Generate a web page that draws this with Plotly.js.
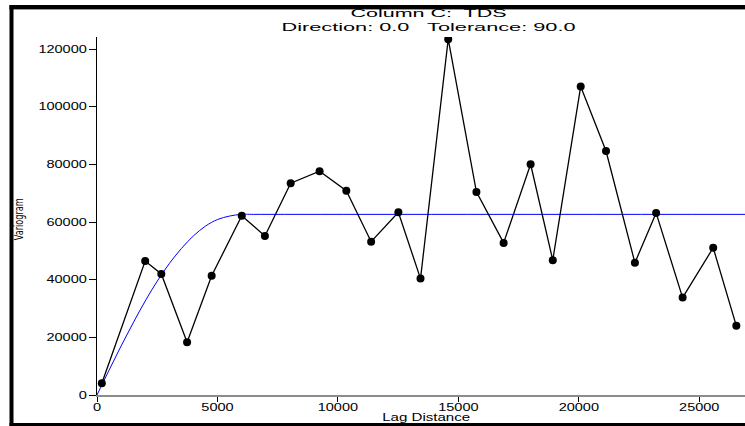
<!DOCTYPE html>
<html>
<head>
<meta charset="utf-8">
<script src="https://cdn.plot.ly/plotly-3.0.1.min.js"></script>
<style>
  html, body { margin: 0; padding: 0; background: #ffffff; }
  #chart { width: 745px; height: 426px; }
</style>
</head>
<body>
<div id="chart"></div>
<script>
// ---- data ----
const lagDistance = [200, 2000, 2670, 3740, 4760, 6010, 6970, 8040, 9240, 10350, 11380, 12510, 13430,
                     14580, 15750, 16880, 18000, 18920, 20080, 21130, 22330, 23210, 24310, 25580, 26540];
const variogramValues = [4100, 46500, 42000, 18300, 41400, 62200, 55200, 73500, 77700, 70900, 53200, 63400, 40400,
                         123500, 70500, 52800, 80100, 46800, 107100, 84700, 45900, 63200, 33800, 51100, 24000];
// fitted model curve (blue)
const modelLag = [0, 500, 1000, 1500, 2000, 2500, 3000, 3500, 4000, 4500, 5000, 5500, 6000, 6500, 27000];
const modelValues = [0, 8600, 17000, 25000, 32600, 39500, 45600, 50800, 55200, 58600, 60900, 62100, 62700, 62700, 62700];
const xTickValues = [0, 5000, 10000, 15000, 20000, 25000];
const yTickValues = [0, 20000, 40000, 60000, 80000, 100000, 120000];
const titleLine1 = "Column C:  TDS";
const titleLine2 = "Direction: 0.0   Tolerance: 90.0";
const xTitle = "Lag Distance";
const yTitle = "Variogram";

// ---- layout geometry ----
const W = 745, H = 426, ML = 97, MR = 0, MT = 37, MB = 31;
const PW = W - ML - MR, PH = H - MT - MB;
const fx = p => (p - ML) / PW;
const fy = p => (H - MB - p) / PH;
const FONT = "Liberation Sans, Arial, sans-serif";

const traces = [
  {
    x: modelLag, y: modelValues, type: "scatter", mode: "lines",
    line: { color: "#0000ff", width: 1, shape: "spline", smoothing: 1 },
    hoverinfo: "skip", showlegend: false
  },
  {
    x: lagDistance, y: variogramValues, type: "scatter", mode: "lines+markers",
    line: { color: "#000000", width: 1.3 },
    marker: { color: "#000000", size: 8, symbol: "circle" },
    showlegend: false
  }
];

function rect(x0, y0, x1, y1, color) {
  return { type: "rect", xref: "paper", yref: "paper",
           x0: fx(x0), x1: fx(x1), y0: fy(y1), y1: fy(y0),
           fillcolor: color, line: { width: 0 }, layer: "above" };
}

const layout = {
  width: W, height: H,
  margin: { l: ML, r: MR, t: MT, b: MB, pad: 0 },
  paper_bgcolor: "#ffffff", plot_bgcolor: "#ffffff",
  showlegend: false,
  font: { family: FONT, size: 10, color: "#000000" },
  xaxis: {
    range: [0, 26900], tickvals: xTickValues, tickformat: "d",
    ticks: "outside", ticklen: 5, tickwidth: 1, tickcolor: "#000000",
    showline: true, linecolor: "#8c8c8c", linewidth: 1.5,
    showgrid: false, zeroline: false,
    tickfont: { family: FONT, size: 10, color: "#000000" }
  },
  yaxis: {
    range: [0, 124260], tickvals: yTickValues, tickformat: "d",
    ticks: "outside", ticklen: 7, tickwidth: 1, tickcolor: "#000000",
    showline: true, linecolor: "#000000", linewidth: 1.2,
    showgrid: false, zeroline: false,
    tickfont: { family: FONT, size: 10, color: "#000000" }
  },
  shapes: [
    rect(9.5, 5, 760, 9, "#000000"),      // top frame bar
    rect(9.5, 9, 760, 10, "#9a9a9a"),     // thin grey under top bar
    rect(9.5, 5, 13.5, 426, "#000000"),   // left frame bar
    rect(9.5, 423, 760, 426, "#000000")   // bottom frame bar
  ],
  annotations: [
    { text: titleLine1 + "<br>" + titleLine2, xref: "paper", yref: "paper", x: fx(428), y: fy(20),
      xanchor: "center", yanchor: "middle", align: "center", showarrow: false,
      font: { family: FONT, size: 11, color: "#000000" } },
    { text: xTitle, xref: "paper", yref: "paper", x: fx(426), y: fy(417.5),
      xanchor: "center", yanchor: "middle", showarrow: false,
      font: { family: FONT, size: 10, color: "#000000" } },
    { text: yTitle, xref: "paper", yref: "paper", x: fx(19), y: fy(219),
      xanchor: "center", yanchor: "middle", showarrow: false, textangle: -90,
      font: { family: "Liberation Sans Narrow, DejaVu Sans Condensed, Liberation Sans, sans-serif", size: 12, color: "#000000" } }
  ]
};

// widths (px) the reference text occupies; the reference font is horizontally wide
const textTargets = {};
textTargets[titleLine1] = 156;
textTargets[titleLine2] = 294;
textTargets[xTitle] = 88;
textTargets[yTitle] = 42;

function fit(el) {
  const target = textTargets[el.textContent];
  if (target) {
    el.setAttribute("textLength", target);
    el.setAttribute("lengthAdjust", "spacingAndGlyphs");
    return true;
  }
  return false;
}

function stretchText() {
  document.querySelectorAll(".xtick text, .ytick text").forEach(t => {
    const w = t.getComputedTextLength();
    t.setAttribute("textLength", (w * 1.45).toFixed(1));
    t.setAttribute("lengthAdjust", "spacingAndGlyphs");
  });
  document.querySelectorAll(".xtick text").forEach(t => {
    const y = parseFloat(t.getAttribute("y") || "0");
    t.setAttribute("y", (y - 3).toFixed(1));
  });
  document.querySelectorAll(".annotation-text").forEach(t => {
    if (!fit(t)) {
      t.querySelectorAll("tspan").forEach(fit);
    }
  });
}

Plotly.newPlot("chart", traces, layout, { staticPlot: true, displayModeBar: false }).then(stretchText);
</script>
</body>
</html>
